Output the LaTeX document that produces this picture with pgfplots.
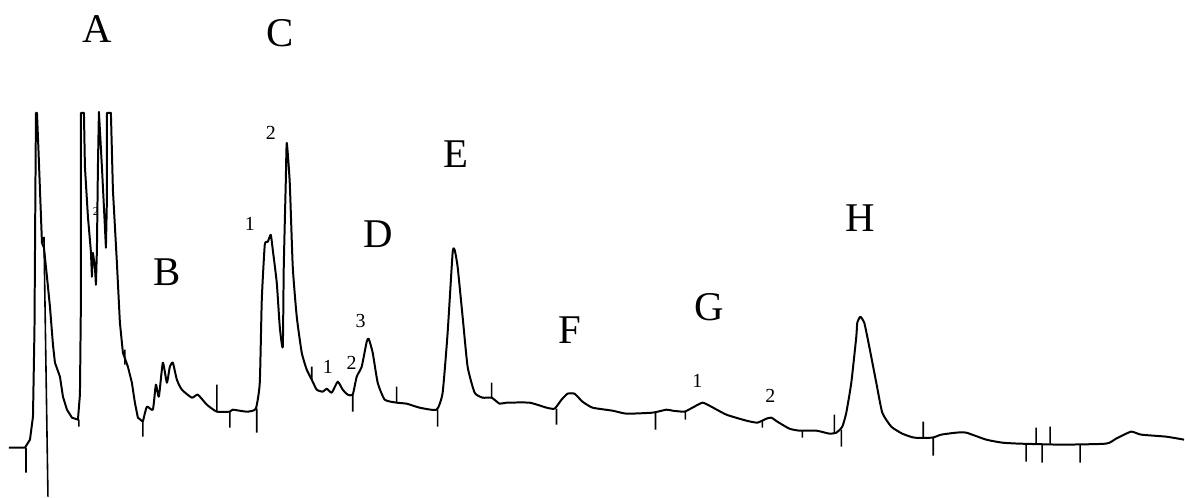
\documentclass[border=0pt]{standalone}
\usepackage{fontspec}
\setmainfont{Liberation Serif}
\usepackage{pgfplots}
\pgfplotsset{compat=1.18}
\begin{document}
\begin{tikzpicture}
\begin{axis}[width=592.5bp, height=249bp, scale only axis, hide axis,
  xmin=0, xmax=1185, ymin=0, ymax=498, y dir=reverse, clip=false]
\path (axis cs:0,0) rectangle (axis cs:1185,498);
% main trace, part A (clipped peaks, sharp)
\addplot[black, line width=1pt, line join=round] coordinates {
(9,448) (25,448) (30,440) (33,417) (34.5,330) (35.5,180) (36,113) (37,113) (38.5,150) (40,190) (42,243) (44,248) (47,277) (50,307) (53,345) (55,363) (60,377) (63,397) (67,410) (72,418) (78,420) (80,395) (81,300) (81,113) (84,113) (85,167) (88,217) (91,252) (92,277) (93,253) (95,267) (96,285) (97,250) (98,167) (99,112) (102,167) (105,227) (106,248) (107,200) (107,113) (111,113) (113,190) (117,263) (120,323) (123,353) (128,367) (132,383) (135,403) (138,418) (143,422)
};
% main trace, rest
\addplot[black, line width=1pt, line join=round, smooth, tension=0.3] coordinates {
(143,422) (147,407) (153,410) (156,385) (159,397) (163,363) (167,383) (170,367) (173,363) (177,380) (182,390) (192,398) (198,395) (207,405) (217,412) (230,412) (233,410) (247,412) (256,409) (260,383) (262,300) (265,245) (268,242) (271,235) (273,250) (277,283) (280,327) (283,347) (284,267) (286,183) (287,143) (290,183) (293,267) (297,317) (302,353) (307,370) (312,380) (317,390) (323,392) (327,389) (332,393) (338,382) (343,390) (348,395) (353,395) (357,377) (362,367) (367,342) (369,339) (373,353) (378,383) (385,400) (397,403) (407,404) (420,408) (437,410) (443,393) (448,333) (453,253) (455,250) (458,267) (463,317) (468,367) (475,393) (483,398) (492,398) (500,404) (507,403) (530,403) (547,408) (555,409) (562,400) (568,394) (575,394) (583,402) (593,408) (613,411) (627,414) (653,413) (667,410) (673,411) (685,412) (693,408) (703,403) (710,406) (727,415) (747,421) (758,423) (767,419) (772,418) (778,422) (790,429) (800,431) (817,431) (830,434) (837,433) (843,427) (847,413) (852,383) (857,337) (858,323) (861,317) (865,323) (870,347) (877,383) (883,413) (892,427) (903,434) (915,438) (933,438) (942,435) (957,433) (967,433) (987,440) (1003,443) (1020,444) (1063,445) (1107,444) (1117,439) (1132,432) (1142,435) (1167,437) (1185,440)
};
% integration ticks
\addplot[black, line width=0.8pt, unbounded coords=jump] coordinates {
(26,448) (26,473) (26,nan)
(44,237) (48,497) (48,nan)
(79,420) (79,427) (79,nan)
(125,350) (125,365) (125,nan)
(143,422) (143,437) (143,nan)
(217,385) (217,412) (217,nan)
(230,412) (230,428) (230,nan)
(257,409) (257,433) (257,nan)
(312,367) (312,380) (312,nan)
(353,395) (353,412) (353,nan)
(397,387) (397,403) (397,nan)
(438,410) (438,427) (438,nan)
(492,383) (492,398) (492,nan)
(557,409) (557,425) (557,nan)
(656,413) (656,430) (656,nan)
(686,412) (686,420) (686,nan)
(763,421) (763,428) (763,nan)
(803,431) (803,438) (803,nan)
(835,415) (835,433) (835,nan)
(842,430) (842,447) (842,nan)
(924,422) (924,438) (924,nan)
(934,438) (934,456) (934,nan)
(1027,444) (1027,462) (1027,nan)
(1037,428) (1037,444) (1037,nan)
(1043,444) (1043,463) (1043,nan)
(1051,427) (1051,444) (1051,nan)
(1081,445) (1081,463)
};
\begin{scope}[every node/.style={inner sep=0pt, font=\fontsize{20.5}{24}\selectfont}]
\node at (axis cs:97,29) {A};
\node at (axis cs:280,33) {C};
\node at (axis cs:167,272) {B};
\node at (axis cs:379,234) {D};
\node at (axis cs:456,154) {E};
\node at (axis cs:570,330) {F};
\node at (axis cs:710,307) {G};
\node at (axis cs:861,218) {H};
\end{scope}
\begin{scope}[every node/.style={inner sep=0pt, font=\fontsize{10}{12}\selectfont}]
\node at (axis cs:250,224) {1};
\node at (axis cs:271,133) {2};
\node at (axis cs:361,321) {3};
\node at (axis cs:328,367) {1};
\node at (axis cs:352,363) {2};
\node at (axis cs:698,381) {1};
\node at (axis cs:771,396) {2};
\node[font=\fontsize{6}{7}\selectfont] at (axis cs:96,212) {2};
\end{scope}
\end{axis}
\end{tikzpicture}
\end{document}
